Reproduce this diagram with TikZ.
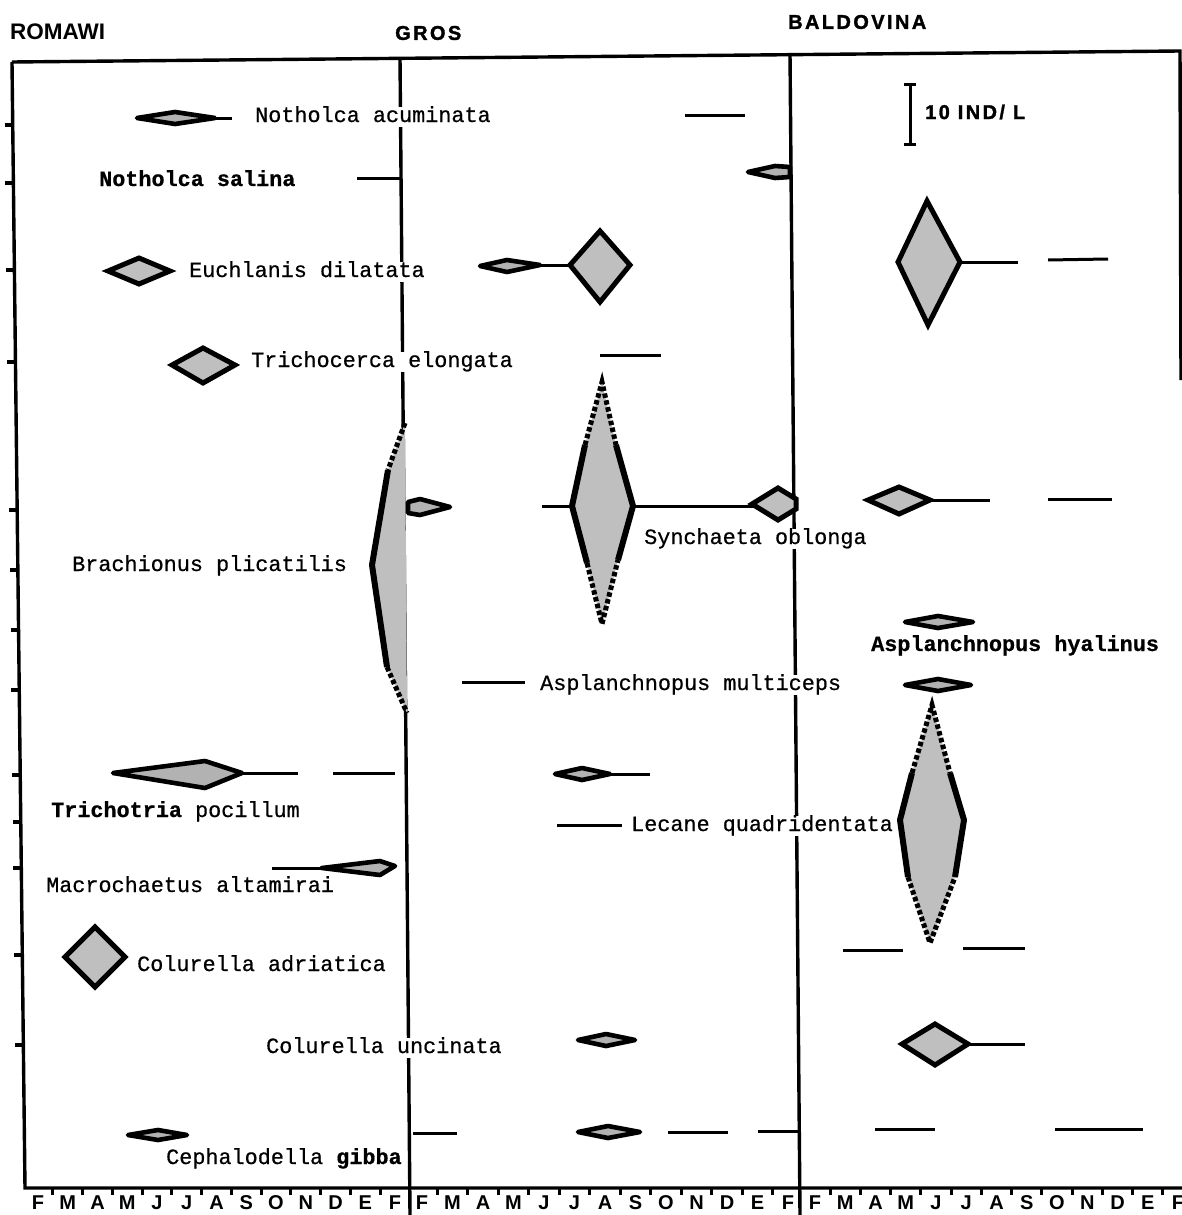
\documentclass[tikz,border=0pt]{standalone}
\usepackage{fontspec}
\setmainfont{Liberation Mono}
\newfontfamily\hdfont{Liberation Sans}
\begin{document}
\begin{tikzpicture}[x=1pt,y=-1pt,
  sp/.style={font=\fontsize{21.8}{24}\selectfont\addfontfeature{FakeBold=0.6}, inner sep=1pt, fill=white, anchor=west, text height=14pt, text depth=4pt},
  hd/.style={font=\hdfont\bfseries\fontsize{22.5}{24}\selectfont, inner sep=0pt, anchor=west},
  hdwide/.style={font=\hdfont\bfseries\fontsize{20}{22}\selectfont\addfontfeature{LetterSpace=12,FakeBold=1.5}, inner sep=0pt, anchor=west},
  mo/.style={font=\hdfont\bfseries\fontsize{20}{22}\selectfont, inner sep=0pt},
  frame/.style={line width=3.4pt},
  bar/.style={line width=3pt},
  lens/.style={draw, line width=4.6pt, fill=gray!60, line join=round},
  rhomb/.style={draw, line width=5pt, fill=gray!50, line join=miter},
  big/.style={fill=gray!50},
  solid edge/.style={line width=6pt, line join=round},
  dot edge/.style={line width=5pt, dash pattern=on 4.5pt off 2.5pt}
]
\useasboundingbox (0,0) rectangle (1182,1215);
\draw[frame] (12,62) -- (1180,51) -- (1181,380);
\draw[frame] (12,62) -- (25,1188) -- (1182,1188);
\draw[frame] (400,58) -- (410,1215);
\draw[frame] (790,54) -- (800,1215);
\foreach \y in {125,183,270,362,510,570,630,690,775,822,868,955,1045}
  \draw[frame] ({4+13*(\y-62)/1126},\y) -- ({12+13*(\y-62)/1126},\y);
\foreach \x/\d/\p in {38/29.75/a, 422/30.5/b, 815/30.25/c}{
  \foreach \m [count=\i from 0] in {F,M,A,M,J,J,A,S,O,N,D,E,F}
    \node[mo] (m\p\i) at ({\x+\d*\i},1203) {\m};
  \foreach \i in {0,...,11}
    \draw[bar] ({\x+\d*(\i+0.5)},1188) -- ({\x+\d*(\i+0.5)},1195);
}

\node[hd] (romawi) at (10,32) {ROMAWI};
\node[hdwide] (gros) at (395,33) {GROS};
\node[hdwide] (baldo) at (788,22) {BALDOVINA};
\draw[bar] (910,84) -- (910,144);
\draw[bar] (904,84) -- (916,84);
\draw[bar] (904,144) -- (916,144);
\node[hdwide] (unit) at (925,112) {10 IND/ L};

\draw[bar] (215,118) -- (232,118);
\draw[bar] (685,115) -- (745,115);
\draw[bar] (357,178) -- (400,178);
\draw[bar] (540,265) -- (571,265);
\draw[bar] (960,262) -- (1018,262);
\draw[bar] (1048,260) -- (1108,259);
\draw[bar] (600,355) -- (661,355);
\draw[bar] (542,506) -- (572,506);
\draw[bar] (633,506) -- (755,506);
\draw[bar] (930,500) -- (990,500);
\draw[bar] (1048,499) -- (1112,499);
\draw[bar] (462,682) -- (525,682);
\draw[bar] (242,773) -- (298,773);
\draw[bar] (333,773) -- (395,773);
\draw[bar] (610,774) -- (650,774);
\draw[bar] (557,825) -- (622,825);
\draw[bar] (272,868) -- (322,868);
\draw[bar] (843,950) -- (903,950);
\draw[bar] (963,948) -- (1025,948);
\draw[bar] (968,1044) -- (1025,1044);
\draw[bar] (413,1133) -- (457,1133);
\draw[bar] (668,1132) -- (728,1132);
\draw[bar] (758,1131) -- (800,1131);
\draw[bar] (875,1129) -- (935,1129);
\draw[bar] (1055,1129) -- (1143,1129);

\node[sp] (nacu) at (254,117) {Notholca acuminata};
\node[sp] (nsal) at (98,181) {\textbf{Notholca salina}};
\node[sp] (edil) at (188,272) {Euchlanis dilatata};
\node[sp] (telo) at (250,362) {Trichocerca elongata};
\node[sp] (sobl) at (643,539) {Synchaeta oblonga};
\node[sp] (bpli) at (71,566) {Brachionus plicatilis};
\node[sp] (ahya) at (870,646) {\textbf{Asplanchnopus hyalinus}};
\node[sp] (amul) at (539,685) {Asplanchnopus multiceps};
\node[sp] (tpoc) at (50,812) {\textbf{Trichotria} pocillum};
\node[sp] (lqua) at (630,826) {Lecane quadridentata};
\node[sp] (malt) at (45,887) {Macrochaetus altamirai};
\node[sp] (cadr) at (136,966) {Colurella adriatica};
\node[sp] (cunc) at (265,1048) {Colurella uncinata};
\node[sp] (cgib) at (165,1159) {Cephalodella \textbf{gibba}};

\draw[lens] (137,118) -- (175,112) -- (215,118) -- (175,124) -- cycle;
\draw[lens] (748,172) -- (775,166) -- (790,167) -- (790,177) -- (775,178) -- cycle;
\draw[rhomb] (108,271) -- (139,258) -- (170,271) -- (139,284) -- cycle;
\draw[lens] (480,266) -- (507,260) -- (540,265) -- (507,272) -- cycle;
\draw[rhomb] (570,265) -- (600,231) -- (630,265) -- (600,302) -- cycle;
\draw[rhomb] (898,262) -- (927,201) -- (960,262) -- (928,325) -- cycle;
\draw[rhomb] (172,365) -- (203,348) -- (235,365) -- (203,383) -- cycle;

\fill[big] (405,423) -- (388,470) -- (372,565) -- (387,667) -- (407,713) -- cycle;
\draw[dot edge] (405,423) -- (388,470);
\draw[solid edge] (388,470) -- (372,565) -- (387,667);
\draw[dot edge] (387,667) -- (407,713);
\draw[lens] (408,502) -- (420,499) -- (450,507) -- (420,515) -- (408,513) -- cycle;

\fill[big] (602,382) -- (585,445) -- (572,506) -- (587,563) -- (602,624) -- (618,560) -- (633,506) -- (616,445) -- cycle;
\draw[dot edge] (585,445) -- (602,382) -- (616,445);
\draw[solid edge] (585,445) -- (572,506) -- (587,563);
\draw[solid edge] (616,445) -- (633,506) -- (618,560);
\draw[dot edge] (587,563) -- (602,624) -- (618,560);
\draw[rhomb] (752,504) -- (778,488) -- (796,499) -- (796,509) -- (778,520) -- cycle;
\draw[rhomb] (868,500) -- (899,487) -- (930,500) -- (899,514) -- cycle;

\draw[lens] (905,622) -- (938,616) -- (973,622) -- (938,628) -- cycle;
\draw[lens] (905,685) -- (938,679) -- (971,685) -- (938,691) -- cycle;

\draw[lens] (113,773) -- (205,761) -- (242,773) -- (205,788) -- cycle;
\draw[lens] (555,774) -- (582,768) -- (610,774) -- (582,780) -- cycle;

\fill[big] (932,705) -- (912,773) -- (900,820) -- (908,877) -- (930,943) -- (955,877) -- (964,820) -- (950,773) -- cycle;
\draw[dot edge] (912,773) -- (932,705) -- (950,773);
\draw[solid edge] (912,773) -- (900,820) -- (908,877);
\draw[solid edge] (950,773) -- (964,820) -- (955,877);
\draw[dot edge] (908,877) -- (930,943) -- (955,877);

\draw[lens] (322,868) -- (380,861) -- (395,866) -- (380,875) -- cycle;
\draw[rhomb] (65,957) -- (95,927) -- (125,957) -- (95,987) -- cycle;
\draw[lens] (578,1040) -- (606,1034) -- (635,1040) -- (606,1046) -- cycle;
\draw[rhomb] (902,1044) -- (935,1024) -- (968,1044) -- (935,1065) -- cycle;
\draw[lens] (128,1135) -- (158,1130) -- (187,1135) -- (158,1140) -- cycle;
\draw[lens] (578,1132) -- (608,1126) -- (640,1132) -- (608,1138) -- cycle;
\end{tikzpicture}
\end{document}
